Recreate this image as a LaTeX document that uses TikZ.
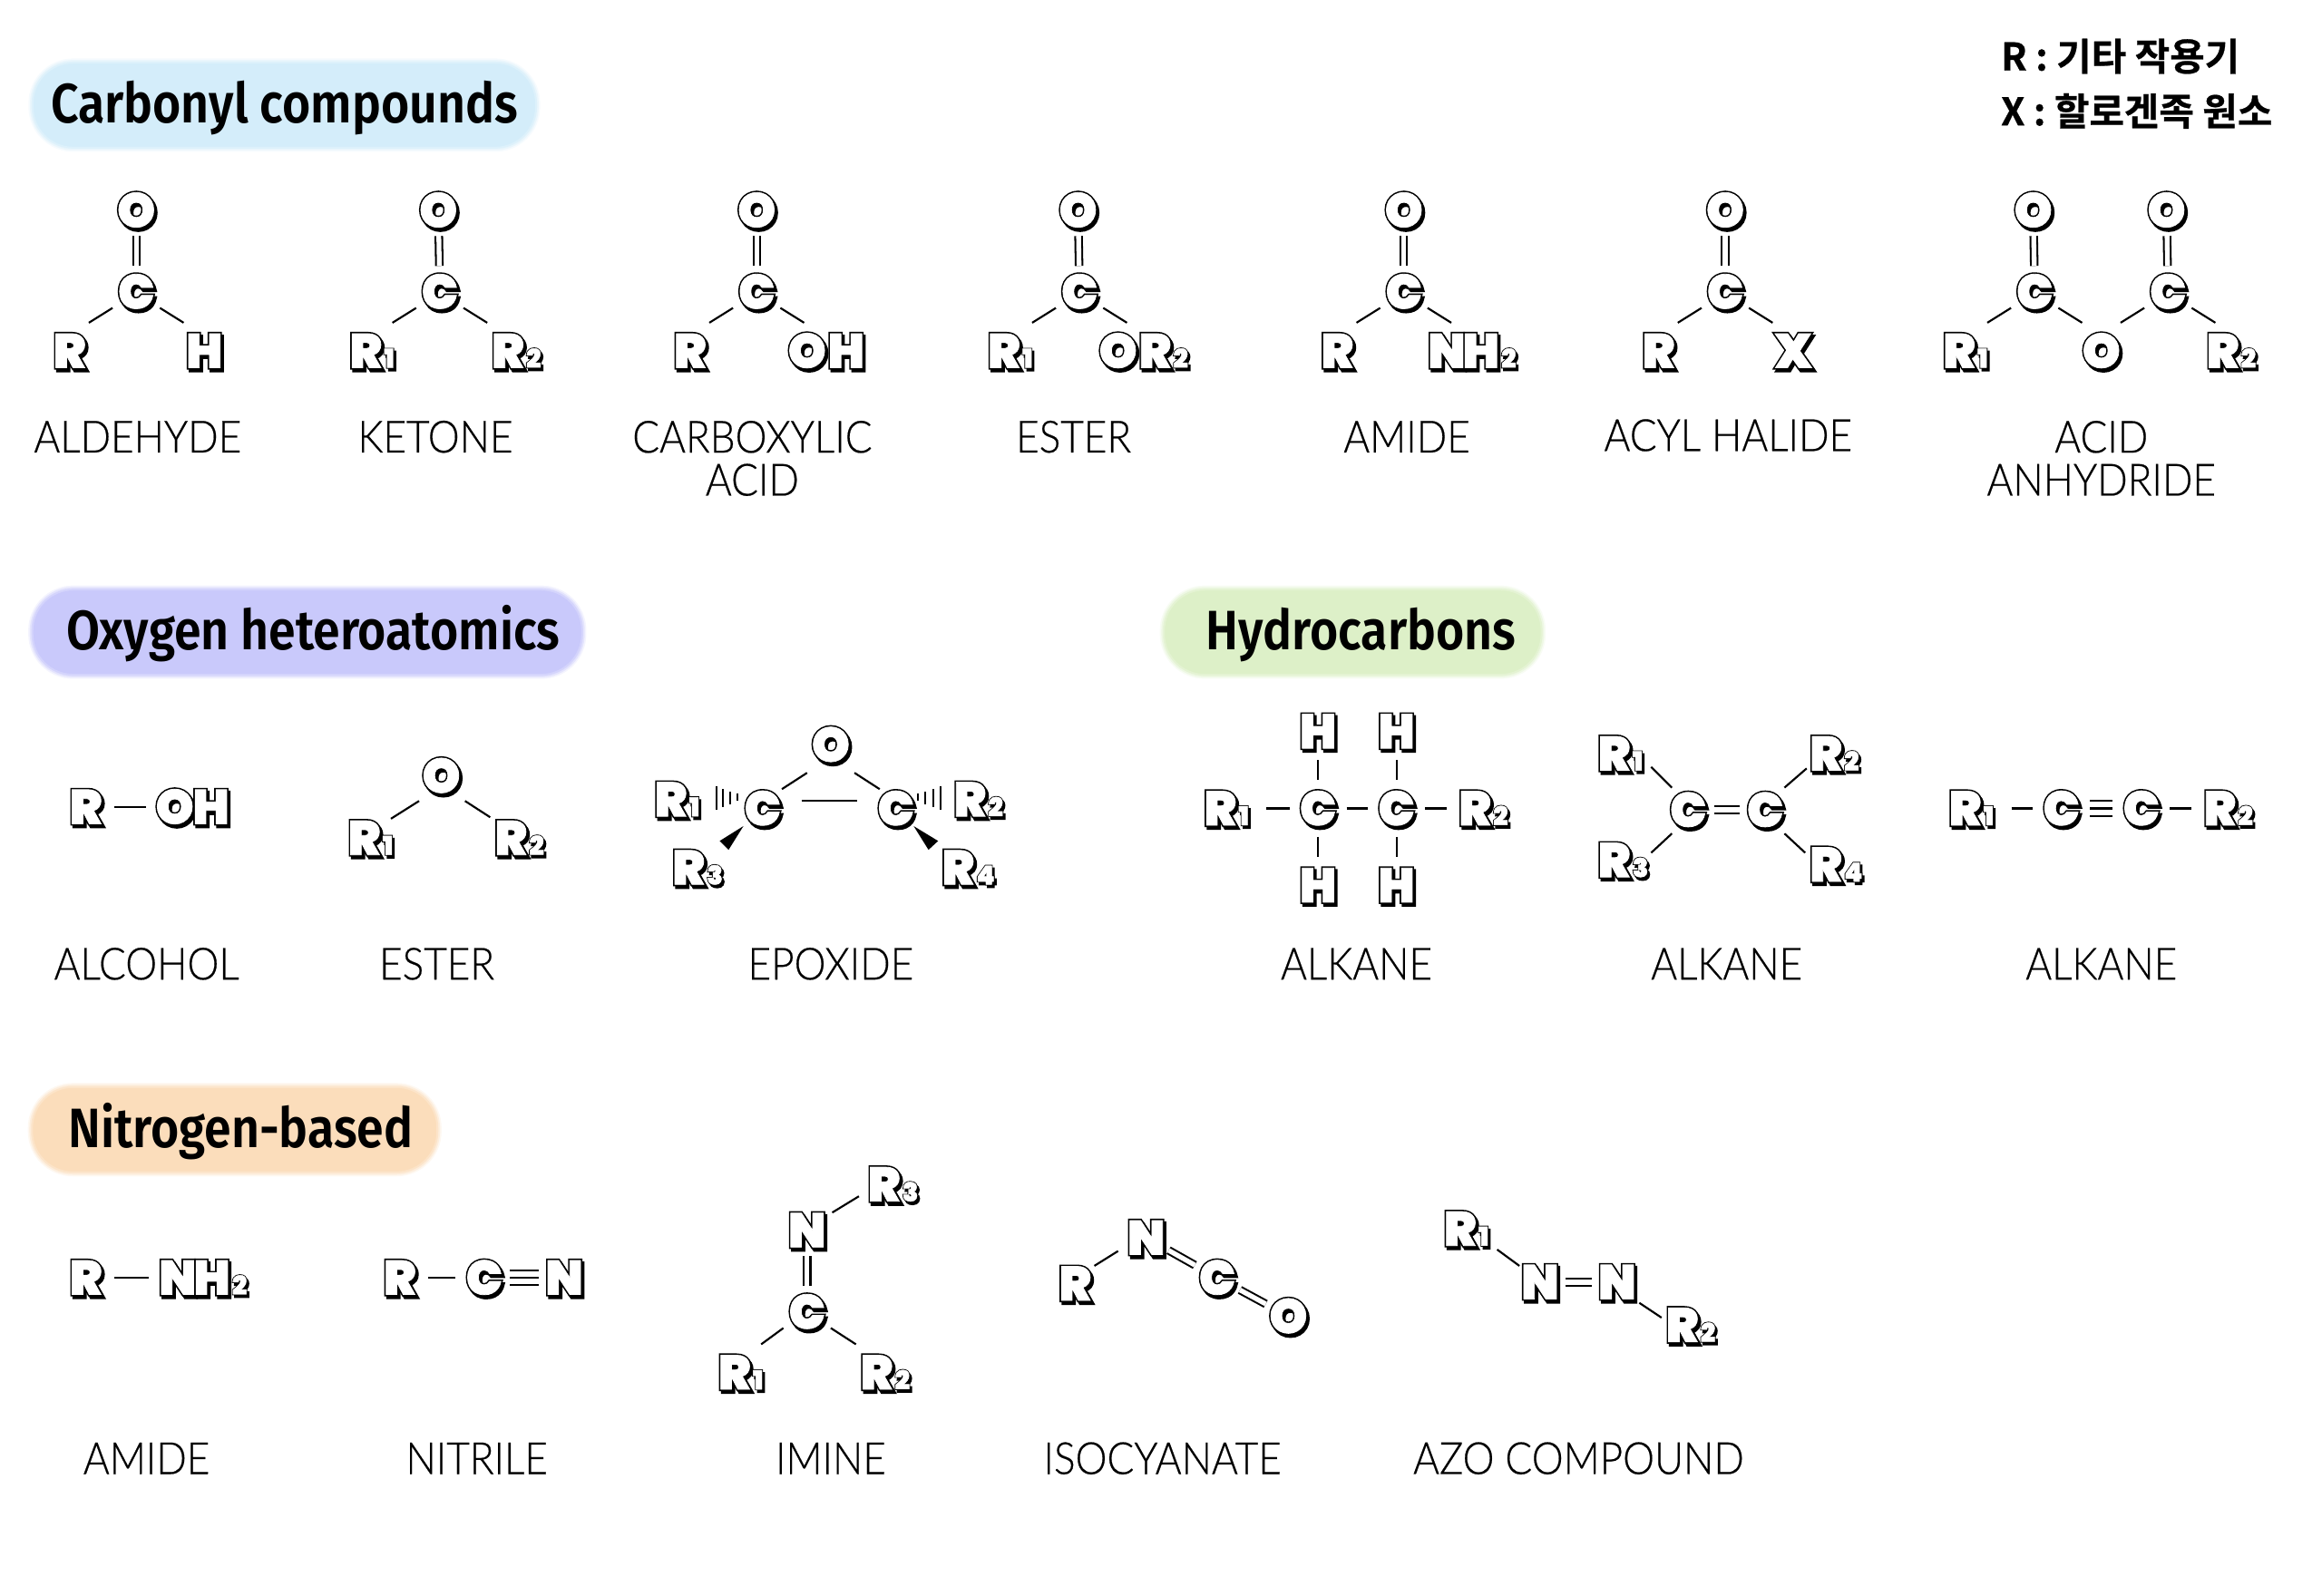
\documentclass[tikz,border=0pt]{standalone}
\usepackage{fontspec}
\usetikzlibrary{calc}
\newfontfamily\outfont[FakeBold=7.5]{Poppins Black}
\newfontfamily\insfont[FakeBold=1.5]{Poppins Black}
\newfontfamily\namefont[FakeStretch=.9,FakeBold=.4]{Lato Light}
\newfontfamily\headfont[FakeStretch=.875]{Fira Sans SemiBold}
\newfontfamily\krfont[FakeBold=.6]{Noto Sans CJK KR Bold}
\definecolor{pillblue}{HTML}{D4EDFA}
\definecolor{pillpurple}{HTML}{C9C9FB}
\definecolor{pillgreen}{HTML}{DDF0C8}
\definecolor{pillorange}{HTML}{FBDDBB}
\newcommand{\hlt}[1]{\makebox[0pt][l]{\raisebox{-1.5pt}{\kern1.1pt\outfont #1}}\makebox[0pt][l]{\outfont #1}{\color{white}\insfont #1}}
\newcommand{\subs}[1]{\kern1.2pt{\fontsize{14}{14}\selectfont\hlt{#1}}}
\newcommand{\atom}[2][]{\hlt{#2}\rlap{#1}}
\tikzset{
	atom/.style={circle,inner sep=0pt,minimum size=30.4pt,text height=18.2pt,text depth=0pt,font=\fontsize{26}{26}\selectfont},
	bond/.style={black,line width=1.05pt},
	dbl/.style={double,double distance=2.6pt,line width=1pt,shorten <=-1.5pt,shorten >=-1.5pt},
	trip/.style={double,double distance=7pt,line width=1pt,shorten <=-1.5pt,shorten >=-1.5pt},
	midl/.style={bond,shorten <=-1.5pt,shorten >=-1.5pt},
	compname/.style={font=\namefont\fontsize{24}{23.2}\selectfont,align=center,inner sep=0pt},
	pill/.style={rounded corners=22pt,inner sep=0pt,minimum height=46pt,text height=24pt,text depth=5pt,font=\headfont\fontsize{30}{30}\selectfont,
		preaction={draw=#1!20,line width=4.5pt},preaction={draw=#1!50,line width=2.8pt},fill=#1,draw=#1!80,line width=1pt},
	legend/.style={anchor=west,inner sep=0pt,font=\krfont\fontsize{20.5}{20.5}\selectfont},
}
\begin{document}
\begin{tikzpicture}[x=.8pt,y=-.8pt]
	\useasboundingbox (0,0) rectangle (1568,1078);
	% headings
	\node[pill=pillblue,minimum width=272pt] (carbonyl) at (192,71) {Carbonyl compounds};
	\node[pill=pillpurple,minimum width=297pt] (oxygen) at (207.5,427) {\hspace*{6.4pt}Oxygen heteroatomics};
	\node[pill=pillgreen,minimum width=204pt] (hydro) at (913.5,427) {\hspace*{9pt}Hydrocarbons};
	\node[pill=pillorange,minimum width=219pt] (nitro) at (158.5,763) {\hspace*{6.4pt}Nitrogen-based};
	\node[legend] (legr) at (1351,38) {R : 기타 작용기};
	\node[legend] (legx) at (1351,75) {X : 할로겐족 원소};

	% aldehyde
	\node[atom] (ao) at (92,142) {\atom{O}};
	\node[atom] (ac) at (92,197) {\atom{C}};
	\node[atom] (ar) at (47,237) {\atom{R}};
	\node[atom] (ah) at (138,237) {\atom{H}};
	\draw[dbl] (ac) -- (ao);
	\draw[bond] ($(ac)+(-16,11)$) -- ($(ar)+(13,-19)$);
	\draw[bond] ($(ac)+(16,11)$) -- ($(ah)+(-14,-19)$);
	\node[compname] (aname) at (93,295) {ALDEHYDE};
	% ketone
	\node[atom] (bo) at (296,142) {\atom{O}};
	\node[atom] (bc) at (297,197) {\atom{C}};
	\node[atom] (br) at (247,237) {\atom[\subs{1}]{R}};
	\node[atom] (bq) at (343,237) {\atom[\subs{2}]{R}};
	\draw[dbl] (bc) -- (bo);
	\draw[bond] ($(bc)+(-16,11)$) -- ($(br)+(18,-19)$);
	\draw[bond] ($(bc)+(16,11)$) -- ($(bq)+(-14,-19)$);
	\node[compname] (bname) at (294,295) {KETONE};
	% carboxylic acid
	\node[atom] (co) at (511,142) {\atom{O}};
	\node[atom] (cc) at (511,197) {\atom{C}};
	\node[atom] (cr) at (466,237) {\atom{R}};
	\node[atom] (cp) at (545,237) {\atom[\kern1pt\hlt{H}]{O}};
	\draw[dbl] (cc) -- (co);
	\draw[bond] ($(cc)+(-16,11)$) -- ($(cr)+(13,-19)$);
	\draw[bond] ($(cc)+(16,11)$) -- ($(cp)+(-2,-19)$);
	\node[compname,anchor=north] (cname) at (508,284) {CARBOXYLIC\\ACID};
	% ester
	\node[atom] (do) at (728,142) {\atom{O}};
	\node[atom] (dc) at (729,197) {\atom{C}};
	\node[atom] (dr) at (678,237) {\atom[\subs{1}]{R}};
	\node[atom] (dp) at (755,237) {\atom[\kern1pt\hlt{R}\subs{2}]{O}};
	\draw[dbl] (dc) -- (do);
	\draw[bond] ($(dc)+(-16,11)$) -- ($(dr)+(19,-19)$);
	\draw[bond] ($(dc)+(16,11)$) -- ($(dp)+(6,-19)$);
	\node[compname] (dname) at (725,295) {ESTER};
	% amide
	\node[atom] (eo) at (948,142) {\atom{O}};
	\node[atom] (ec) at (948,197) {\atom{C}};
	\node[atom] (er) at (903,237) {\atom{R}};
	\node[atom] (en) at (977,237) {\atom[\kern-1.5pt\hlt{H}\subs{2}]{N}};
	\draw[dbl] (ec) -- (eo);
	\draw[bond] ($(ec)+(-16,11)$) -- ($(er)+(13,-19)$);
	\draw[bond] ($(ec)+(16,11)$) -- ($(en)+(3,-19)$);
	\node[compname] (ename) at (950,295) {AMIDE};
	% acyl halide
	\node[atom] (fo) at (1165,142) {\atom{O}};
	\node[atom] (fc) at (1165,197) {\atom{C}};
	\node[atom] (fr) at (1120,237) {\atom{R}};
	\node[atom] (fx) at (1211,237) {\atom{X}};
	\draw[dbl] (fc) -- (fo);
	\draw[bond] ($(fc)+(-16,11)$) -- ($(fr)+(13,-19)$);
	\draw[bond] ($(fc)+(16,11)$) -- ($(fx)+(-14,-19)$);
	\node[compname] (fname) at (1167,294) {ACYL HALIDE};
	% acid anhydride
	\node[atom] (go) at (1373,142) {\atom{O}};
	\node[atom] (gc) at (1374,197) {\atom{C}};
	\node[atom] (gp) at (1463,142) {\atom{O}};
	\node[atom] (gd) at (1464,197) {\atom{C}};
	\node[atom] (gr) at (1323,237) {\atom[\subs{1}]{R}};
	\node[atom] (gm) at (1419,237) {\atom{O}};
	\node[atom] (gq) at (1501,237) {\atom[\subs{2}]{R}};
	\draw[dbl] (gc) -- (go);
	\draw[dbl] (gd) -- (gp);
	\draw[bond] ($(gc)+(-16,11)$) -- ($(gr)+(19,-19)$);
	\draw[bond] ($(gc)+(16,11)$) -- ($(gm)+(-13,-19)$);
	\draw[bond] ($(gd)+(-16,11)$) -- ($(gm)+(13,-19)$);
	\draw[bond] ($(gd)+(16,11)$) -- ($(gq)+(-5,-19)$);
	\node[compname,anchor=north] (gname) at (1419,284) {ACID\\ANHYDRIDE};

	% alcohol
	\node[atom] (hr) at (58,545) {\atom{R}};
	\node[atom] (ho) at (118,545) {\atom[\kern-.5pt\hlt{H}]{O}};
	\draw[bond] (hr) -- (ho);
	\node[compname] (hname) at (99,651) {ALCOHOL};
	% ether row
	\node[atom] (io) at (298,524) {\atom{O}};
	\node[atom] (ir) at (246,566) {\atom[\subs{1}]{R}};
	\node[atom] (iq) at (345,566) {\atom[\subs{2}]{R}};
	\draw[bond] ($(io)+(-15,17)$) -- ($(ir)+(18,-13)$);
	\draw[bond] ($(io)+(16,17)$) -- ($(iq)+(-14,-14)$);
	\node[compname] (iname) at (295,651) {ESTER};
	% epoxide
	\node[atom] (jo) at (561,503) {\atom{O}};
	\node[atom] (jc) at (515,546) {\atom{C}};
	\node[atom] (jd) at (605,546) {\atom{C}};
	\node[atom] (jr) at (453,540) {\atom[\subs{1}]{R}};
	\node[atom] (jq) at (655,540) {\atom[\subs{2}]{R}};
	\node[atom] (js) at (465,586) {\atom[\subs{3}]{R}};
	\node[atom] (jt) at (647,586) {\atom[\subs{4}]{R}};
	\draw[bond] ($(jo)+(-16,19)$) -- ($(jc)+(13,-13)$);
	\draw[bond] ($(jo)+(16,19)$) -- ($(jd)+(-11,-13)$);
	\draw[bond,shorten <=5.6pt,shorten >=5.6pt] ([yshift=4pt]jc.east) -- ([yshift=4pt]jd.west);
	\draw[bond] ($(jc)+(-31,-15)$) -- ($(jc)+(-31,1)$);
	\draw[bond] ($(jc)+(-27,-13)$) -- ($(jc)+(-27,-1)$);
	\draw[bond] ($(jc)+(-22,-11)$) -- ($(jc)+(-22,-3)$);
	\draw[bond] ($(jc)+(-17,-10)$) -- ($(jc)+(-17,-5)$);
	\draw[bond] ($(jd)+(15,-10)$) -- ($(jd)+(15,-5)$);
	\draw[bond] ($(jd)+(20,-11)$) -- ($(jd)+(20,-3)$);
	\draw[bond] ($(jd)+(25,-13)$) -- ($(jd)+(25,-1)$);
	\draw[bond] ($(jd)+(30,-15)$) -- ($(jd)+(30,1)$);
	\fill ($(jc)+(-13,12)$) -- ($(jc)+(-29,22)$) -- ($(jc)+(-23,28)$) -- cycle;
	\fill ($(jd)+(12,12)$) -- ($(jd)+(28.5,22)$) -- ($(jd)+(22,28)$) -- cycle;
	\node[compname] (jname) at (561,651) {EPOXIDE};

	% alkane single
	\node[atom] (kr) at (824,546) {\atom[\subs{1}]{R}};
	\node[atom] (kc) at (890,546) {\atom{C}};
	\node[atom] (kd) at (943,546) {\atom{C}};
	\node[atom] (kq) at (996,546) {\atom[\subs{2}]{R}};
	\node[atom] (ka) at (890,494) {\atom{H}};
	\node[atom] (kb) at (943,494) {\atom{H}};
	\node[atom] (ke) at (890,598) {\atom{H}};
	\node[atom] (kf) at (943,598) {\atom{H}};
	\draw[bond,shorten <=9.6pt] (kr) -- (kc);
	\draw[bond] (kc) -- (kd);
	\draw[bond] (kd) -- (kq);
	\draw[bond] (kc) -- (ka);
	\draw[bond] (kd) -- (kb);
	\draw[bond] (kc) -- (ke);
	\draw[bond] (kd) -- (kf);
	\node[compname] (kname) at (916,651) {ALKANE};
	% alkene
	\node[atom] (lc) at (1140,547) {\atom{C}};
	\node[atom] (ld) at (1192,547) {\atom{C}};
	\node[atom] (lr) at (1090,509) {\atom[\subs{1}]{R}};
	\node[atom] (lq) at (1233,509) {\atom[\subs{2}]{R}};
	\node[atom] (ls) at (1090,581) {\atom[\subs{3}]{R}};
	\node[atom] (lt) at (1233,584) {\atom[\subs{4}]{R}};
	\draw[dbl] (lc) -- (ld);
	\draw[bond] ($(lr)+(25,9)$) -- ($(lc)+(-11,-15)$);
	\draw[bond] ($(lq)+(-13,10)$) -- ($(ld)+(13,-15)$);
	\draw[bond] ($(ls)+(25,-5)$) -- ($(lc)+(-11,16)$);
	\draw[bond] ($(lt)+(-14,-8)$) -- ($(ld)+(13,16)$);
	\node[compname] (lname) at (1166,651) {ALKANE};
	% alkyne
	\node[atom] (mr) at (1327,546) {\atom[\subs{1}]{R}};
	\node[atom] (mc) at (1392,546) {\atom{C}};
	\node[atom] (md) at (1446,546) {\atom{C}};
	\node[atom] (mq) at (1499,546) {\atom[\subs{2}]{R}};
	\draw[bond,shorten <=9.6pt] (mr) -- (mc);
	\draw[trip,shorten <=0pt,shorten >=0pt] (mc) -- (md);
	\draw[bond] (mc) -- (md);
	\draw[bond] (md) -- (mq);
	\node[compname] (mname) at (1419,651) {ALKANE};

	% amide
	\node[atom] (nr) at (58,863) {\atom{R}};
	\node[atom] (nn) at (120,863) {\atom[\kern-1.5pt\hlt{H}\subs{2}]{N}};
	\draw[bond] (nr) -- (nn);
	\node[compname] (nname) at (99,985) {AMIDE};
	% nitrile
	\node[atom] (or) at (270,863) {\atom{R}};
	\node[atom] (oc) at (327,863) {\atom{C}};
	\node[atom] (on) at (381,863) {\atom{N}};
	\draw[bond] (or) -- (oc);
	\draw[trip] (oc) -- (on);
	\draw[midl] (oc) -- (on);
	\node[compname] (oname) at (322,985) {NITRILE};
	% imine
	\node[atom] (pn) at (545,831) {\atom{N}};
	\node[atom] (pc) at (545,886) {\atom{C}};
	\node[atom] (pt) at (597,800) {\atom[\subs{3}]{R}};
	\node[atom] (pr) at (496,927) {\atom[\subs{1}]{R}};
	\node[atom] (pq) at (592,927) {\atom[\subs{2}]{R}};
	\draw[dbl] (pn) -- (pc);
	\draw[bond] ($(pn)+(17,-12)$) -- ($(pt)+(-17,8)$);
	\draw[bond] ($(pc)+(-16,11)$) -- ($(pr)+(18,-19)$);
	\draw[bond] ($(pc)+(16,11)$) -- ($(pq)+(-14,-19)$);
	\node[compname] (pname) at (561,985) {IMINE};
	% isocyanate
	\node[atom] (qr) at (726,867) {\atom{R}};
	\node[atom] (qn) at (774,836) {\atom{N}};
	\node[atom] (qc) at (822,863) {\atom{C}};
	\node[atom] (qo) at (870,889) {\atom{O}};
	\draw[bond] ($(qr)+(13,-12)$) -- ($(qn)+(-19,9)$);
	\draw[dbl] (qn) -- (qc);
	\draw[dbl] (qc) -- (qo);
	\node[compname] (qname) at (785,985) {ISOCYANATE};
	% azo compound
	\node[atom] (rr) at (986,830) {\atom[\subs{1}]{R}};
	\node[atom] (rn) at (1040,866) {\atom{N}};
	\node[atom] (rm) at (1092,866) {\atom{N}};
	\node[atom] (rq) at (1136,895) {\atom[\subs{2}]{R}};
	\draw[bond] ($(rr)+(25,14)$) -- ($(rn)+(-14,-11)$);
	\draw[dbl] (rn) -- (rm);
	\draw[bond] ($(rm)+(15,14)$) -- ($(rq)+(-14,-5)$);
	\node[compname] (rname) at (1066,985) {AZO COMPOUND};
\end{tikzpicture}
\end{document}
